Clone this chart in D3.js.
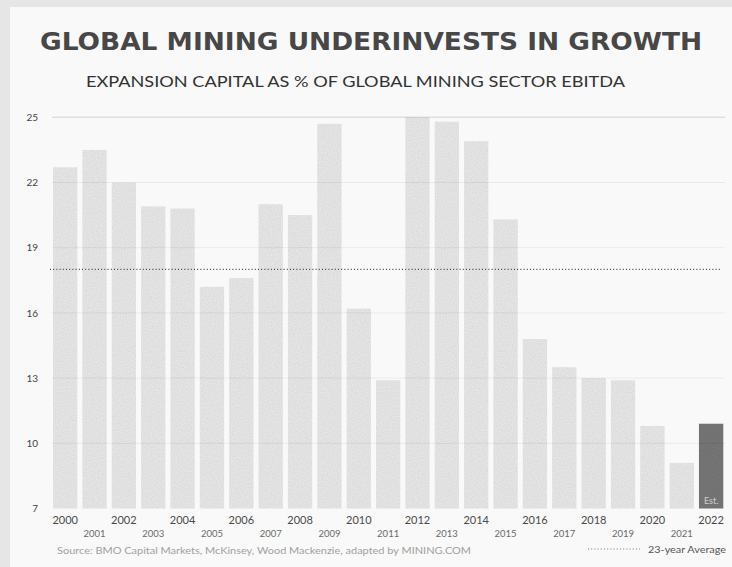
<!DOCTYPE html>
<html>
<head>
<meta charset="utf-8">
<script src="https://cdn.jsdelivr.net/npm/d3@7"></script>
<style>
  html, body { margin: 0; padding: 0; background: #e6e6e6; }
  svg { display: block; }
</style>
</head>
<body>
<svg id="chart" width="732" height="567"></svg>
<script>
// Expansion capital as % of global mining sector EBITDA, 2000–2022 (2022 estimated)
const years = ["2000","2001","2002","2003","2004","2005","2006","2007","2008","2009","2010","2011",
               "2012","2013","2014","2015","2016","2017","2018","2019","2020","2021","2022"];
const values = [22.7, 23.5, 22.0, 20.9, 20.8, 17.2, 17.6, 21.0, 20.5, 24.7, 16.2, 12.9,
                25.0, 24.8, 23.9, 20.3, 14.8, 13.5, 13.0, 12.9, 10.8, 9.1, 10.9];
const estimatedYears = ["2022"];
const average = 18.0;
const yTicks = [25, 22, 19, 16, 13, 10, 7];

const title = "GLOBAL MINING UNDERINVESTS IN GROWTH";
const subtitle = "EXPANSION CAPITAL AS % OF GLOBAL MINING SECTOR EBITDA";
const source = "Source: BMO Capital Markets, McKinsey, Wood Mackenzie, adapted by MINING.COM";
const legendLabel = "23-year Average";

const svg = d3.select("#chart");

// card
svg.append("rect")
  .attr("x", 10).attr("y", 7).attr("width", 722).attr("height", 560)
  .attr("fill", "#f9f9f9");

// light grain for the bars
const defs = svg.append("defs");
const grain = defs.append("filter").attr("id", "grain")
  .attr("x", 0).attr("y", 0).attr("width", 1).attr("height", 1);
grain.append("feTurbulence").attr("type", "fractalNoise")
  .attr("baseFrequency", 0.8).attr("numOctaves", 1).attr("seed", 3).attr("result", "noise");
grain.append("feColorMatrix").attr("in", "noise").attr("type", "matrix")
  .attr("values", "0 0 0 0 0.3  0 0 0 0 0.3  0 0 0 0 0.3  0 0 0 0.4 -0.12")
  .attr("result", "dots");
grain.append("feComposite").attr("in", "dots").attr("in2", "SourceGraphic")
  .attr("operator", "in").attr("result", "dotsIn");
grain.append("feMerge").call(m => {
  m.append("feMergeNode").attr("in", "SourceGraphic");
  m.append("feMergeNode").attr("in", "dotsIn");
});

// titles
svg.append("text")
  .attr("x", 371).attr("y", 49.5)
  .attr("text-anchor", "middle")
  .attr("font-family", "'DejaVu Sans', sans-serif")
  .attr("font-weight", "bold")
  .attr("font-size", 24)
  .attr("fill", "#474747")
  .attr("textLength", 662).attr("lengthAdjust", "spacingAndGlyphs")
  .text(title);

svg.append("text")
  .attr("x", 355.5).attr("y", 87.3)
  .attr("text-anchor", "middle")
  .attr("font-family", "Lato, 'Noto Sans', sans-serif")
  .attr("font-size", 14.5)
  .attr("fill", "#333")
  .attr("textLength", 539).attr("lengthAdjust", "spacingAndGlyphs")
  .text(subtitle);

// scales
const x = d3.scaleBand()
  .domain(years)
  .range([50.06, 726.2])
  .paddingInner(0.172)
  .paddingOuter(0.1);

const y = d3.scaleLinear()
  .domain([7, 25])
  .range([508.5, 117.3]);

// bars
svg.append("g").selectAll("rect")
  .data(years.map((yr, i) => ({ year: yr, value: values[i] })))
  .join("rect")
  .attr("x", d => x(d.year))
  .attr("width", x.bandwidth())
  .attr("y", d => y(d.value))
  .attr("height", d => y(7) - y(d.value))
  .attr("fill", d => estimatedYears.includes(d.year) ? "#707070" : "#e6e6e6")
  .attr("filter", "url(#grain)");

// estimate marker inside the final bar
svg.append("text")
  .attr("x", x("2022") + x.bandwidth() / 2)
  .attr("y", 504)
  .attr("text-anchor", "middle")
  .attr("font-family", "Lato, sans-serif")
  .attr("font-size", 9)
  .attr("fill", "#cfcfcf")
  .text("Est.");

// gridlines, drawn over the bars
svg.append("g").selectAll("line")
  .data(yTicks.filter(t => t > 7))
  .join("line")
  .attr("x1", 52).attr("x2", 725)
  .attr("y1", d => y(d)).attr("y2", d => y(d))
  .attr("stroke", "#000")
  .attr("stroke-opacity", d => d === 25 ? 0.1 : 0.06)
  .attr("stroke-width", d => d === 25 ? 1.5 : 1);

// 23-year average
svg.append("line")
  .attr("x1", 50).attr("x2", 720)
  .attr("y1", y(average)).attr("y2", y(average))
  .attr("stroke", "#444")
  .attr("stroke-width", 1.2)
  .attr("stroke-dasharray", "1 2.2");

// y axis labels
const yAxis = svg.append("g")
  .attr("transform", "translate(42,0)")
  .call(d3.axisLeft(y).tickValues(yTicks).tickSize(0).tickPadding(4).tickFormat(d3.format("d")));
yAxis.select(".domain").remove();
yAxis.selectAll("text")
  .attr("font-family", "Lato, sans-serif")
  .attr("font-size", 10)
  .attr("fill", "#444");

// x axis labels, staggered
const xAxis = svg.append("g")
  .attr("transform", `translate(0,${y(7)})`)
  .call(d3.axisBottom(x).tickSize(0).tickPadding(0));
xAxis.select(".domain").remove();
xAxis.selectAll(".tick text")
  .attr("font-family", "Lato, sans-serif")
  .attr("dy", null)
  .attr("y", (d, i) => i % 2 === 0 ? 15 : 28)
  .attr("font-size", (d, i) => i % 2 === 0 ? 11 : 9.5)
  .attr("fill", (d, i) => i % 2 === 0 ? "#4a4a4a" : "#6a6a6a");

// source
svg.append("text")
  .attr("x", 57).attr("y", 554)
  .attr("font-family", "Lato, sans-serif")
  .attr("font-size", 8.5)
  .attr("fill", "#a0a0a0")
  .attr("textLength", 414).attr("lengthAdjust", "spacingAndGlyphs")
  .text(source);

// legend
svg.append("line")
  .attr("x1", 588).attr("x2", 640)
  .attr("y1", 549).attr("y2", 549)
  .attr("stroke", "#777")
  .attr("stroke-width", 1.2)
  .attr("stroke-dasharray", "1 2.2");
svg.append("text")
  .attr("x", 648).attr("y", 552.5)
  .attr("font-family", "Lato, sans-serif")
  .attr("font-size", 10)
  .attr("fill", "#555")
  .attr("textLength", 78).attr("lengthAdjust", "spacingAndGlyphs")
  .text(legendLabel);
</script>
</body>
</html>
